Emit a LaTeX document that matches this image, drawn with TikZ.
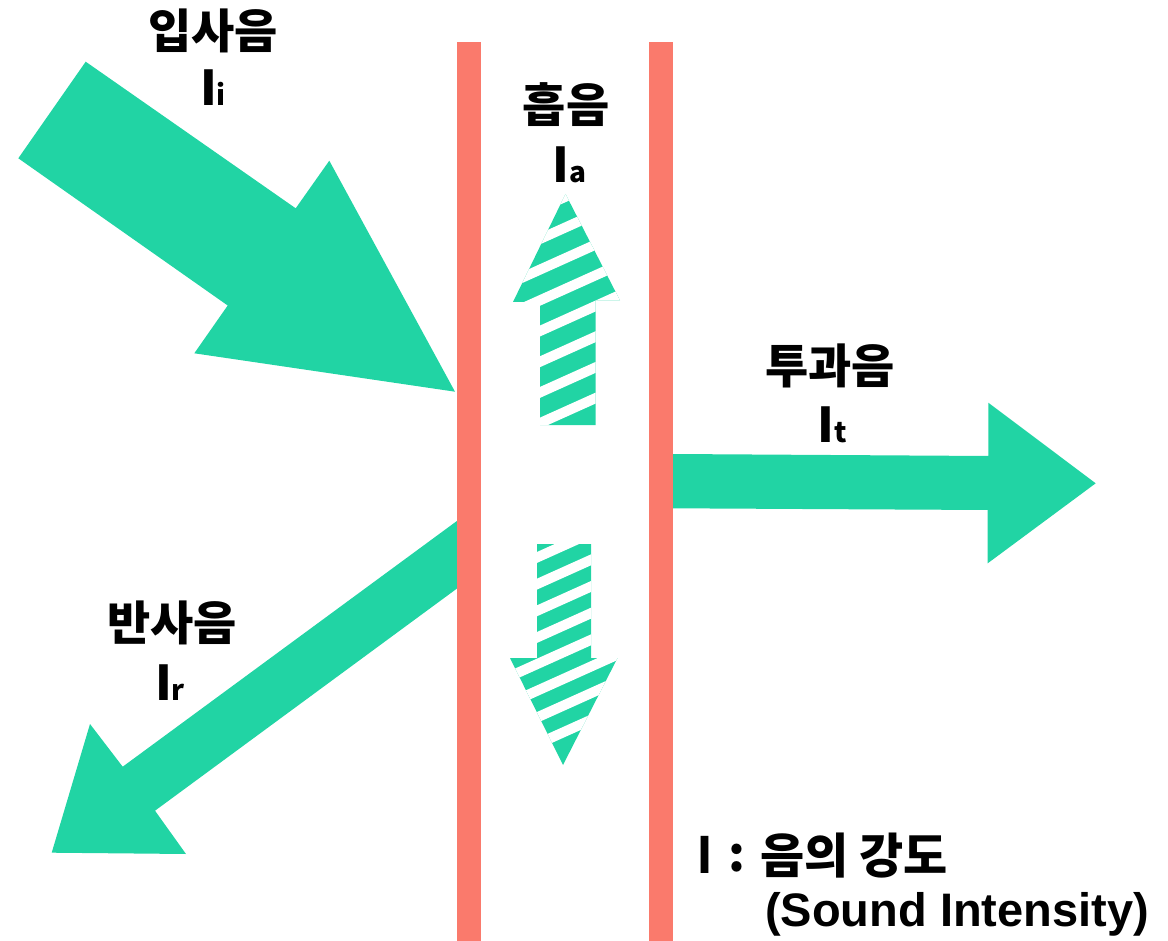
\documentclass[tikz,border=0pt]{standalone}
\usepackage{fontspec}
\newfontfamily\kr{Noto Sans CJK KR}
\newfontfamily\lat{Liberation Sans}
\definecolor{wave}{HTML}{21D4A4}
\definecolor{wallc}{HTML}{FA7A6C}
\tikzset{
  wavefill/.style={fill=wave, draw=none},
  wallbar/.style={fill=wallc, draw=none},
  stripe/.style={draw=white, line width=10pt},
  title/.style={font=\kr\bfseries\fontsize{47}{50}\selectfont, inner sep=0pt},
  sym/.style={font=\kr\bfseries\fontsize{48}{50}\selectfont, inner sep=0pt},
  legend/.style={font=\kr\bfseries\fontsize{48}{52}\selectfont, inner sep=0pt},
}
\newcommand{\Isub}[1]{I{\fontsize{28}{30}\selectfont #1}}
\begin{document}
\begin{tikzpicture}[x=1pt,y=-1pt]
\useasboundingbox (0,0) rectangle (1168,941);
% incident arrow
\fill[wavefill] (85.7,61.7) -- (295.7,208.3) -- (329.3,160.7) -- (455,391.7)
  -- (194.3,353.3) -- (227.7,305.5) -- (18.3,158.3) -- cycle;
% reflected arrow
\fill[wavefill] (457.3,520.7) -- (122.7,766.7) -- (90,724) -- (51.7,852.7)
  -- (186,854) -- (155,810.7) -- (457.3,588.3) -- cycle;
% transmitted arrow
\fill[wavefill] (673,454) -- (988.3,456) -- (988.3,402.7) -- (1095.7,483.3)
  -- (987.7,563.3) -- (987.7,510) -- (673,508.3) -- cycle;
% absorbed: up hatched arrow
\begin{scope}
  \clip (565.5,194) -- (620,300.5) -- (595.5,300.5) -- (595.5,425) -- (540,425)
    -- (540,302) -- (513,302) -- cycle;
  \fill[wavefill] (500,180) rectangle (640,440);
  \foreach \k in {-6,...,3}
    \draw[stripe] (480,{331+30.7*\k+27}) -- (660,{331+30.7*\k-54});
\end{scope}
% absorbed: down hatched arrow
\begin{scope}
  \clip (537,544) -- (591,544) -- (591,658) -- (617.5,658) -- (563,765)
    -- (510,658) -- (537,658) -- cycle;
  \fill[wavefill] (500,530) rectangle (640,780);
  \foreach \k in {-2,...,7}
    \draw[stripe] (480,{557.5+26.67*\k+25.6}) -- (660,{557.5+26.67*\k-55.4});
\end{scope}
% walls
\fill[wallbar] (457,42) rectangle (481,941);
\fill[wallbar] (649,42) rectangle (673,941);
% labels
\node[title] (inc) at (213,31) {입사음};
\node[sym] (incI) at (213,88) {\Isub{i}};
\node[title] (abs) at (566,105) {흡음};
\node[sym] (absI) at (569.5,164.5) {\Isub{a}};
\node[title] (tra) at (830,366) {투과음};
\node[sym] (traI) at (832,424.5) {\Isub{t}};
\node[title] (ref) at (172,623) {반사음};
\node[sym] (refI) at (170,683) {\Isub{r}};
% legend
\node[legend, font=\lat\bfseries\fontsize{54}{56}\selectfont] (lgI) at (705,855) {I};
\node[legend] (lgC) at (737,858) {:};
\node[legend, anchor=west] (lgK) at (760,855.5) {음의 강도};
\node[font=\lat\bfseries\fontsize{47}{52}\selectfont, inner sep=0pt, anchor=base west] (lgE) at (765,926) {(Sound Intensity)};
\end{tikzpicture}
\end{document}
